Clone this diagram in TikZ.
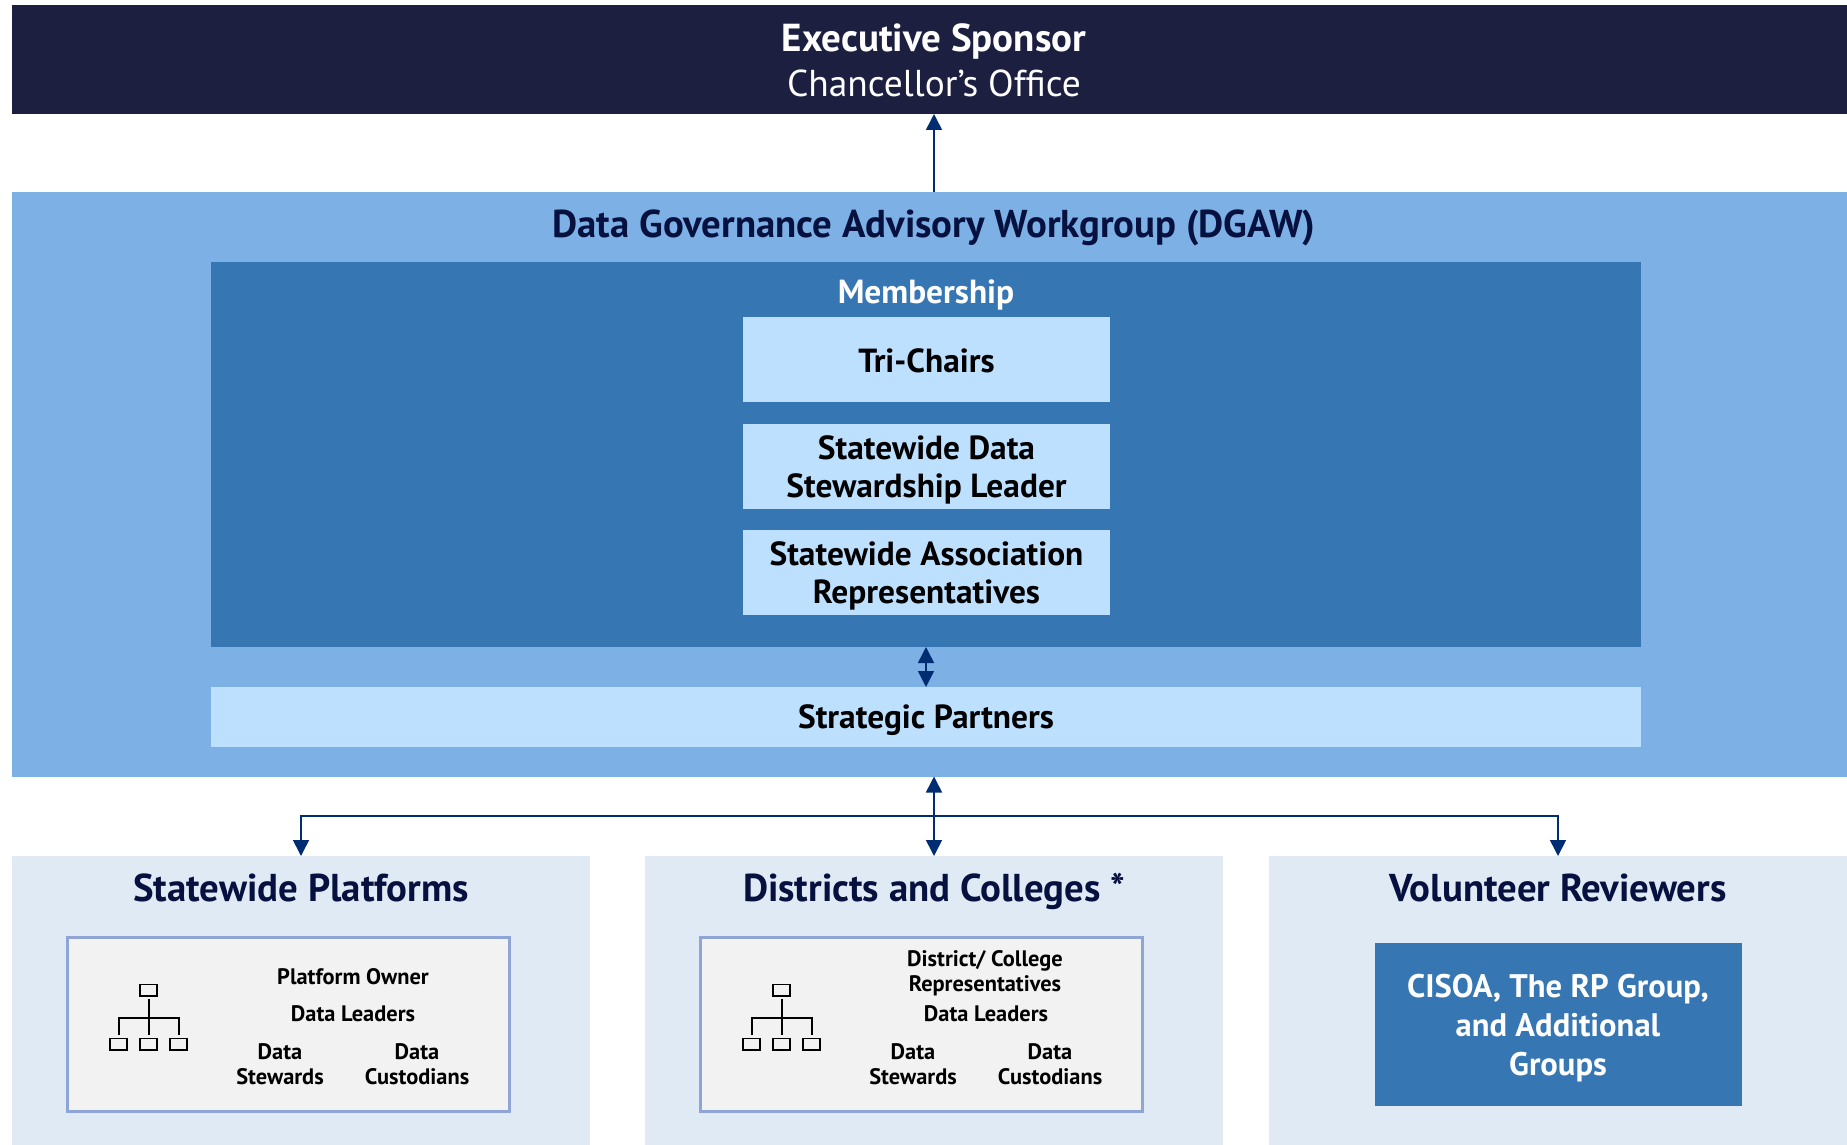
\documentclass[tikz,border=0pt]{standalone}
\usepackage{fontspec}
\setmainfont{PT Sans}
\usetikzlibrary{positioning,arrows.meta}
\definecolor{execblue}{HTML}{1C1F40}
\definecolor{dgawblue}{HTML}{7DB0E5}
\definecolor{memberblue}{HTML}{3676B3}
\definecolor{paleblue}{HTML}{BDE0FF}
\definecolor{groupblue}{HTML}{E0EAF5}
\definecolor{titleblue}{HTML}{07113F}
\definecolor{linkblue}{HTML}{002D72}
\definecolor{cardline}{HTML}{8FA5D6}
\definecolor{cardfill}{HTML}{F2F2F2}
\tikzset{
	panel/.style={anchor=north west,inner sep=0pt,outer sep=0pt},
	rolebox/.style={fill=paleblue,inner sep=0pt,outer sep=0pt,minimum width=183.5pt,minimum height=42.5pt,align=center,font=\fontsize{16.7}{19}\selectfont\bfseries},
	bigtitle/.style={anchor=base,font=\fontsize{19.4}{23}\selectfont\bfseries,text=titleblue},
	midtitle/.style={anchor=base,font=\fontsize{16.7}{19}\selectfont\bfseries},
	smalltext/.style={font=\fontsize{11.2}{12.5}\selectfont\bfseries,align=center,inner sep=0pt},
	link/.style={draw=linkblue,line width=.8pt,-{Triangle[length=8pt,width=8pt]}},
	twolink/.style={draw=linkblue,line width=.8pt,{Triangle[length=8pt,width=8pt]}-{Triangle[length=8pt,width=8pt]}},
	orgbox/.style={draw=black,line width=.9pt,inner sep=0pt,outer sep=1.9pt,minimum width=8.6pt,minimum height=5.6pt}
}
\begin{document}
\begin{tikzpicture}[x=.5pt,y=-.5pt]
	\useasboundingbox (0,0) rectangle (1847,1145);
	% top bar
	\node (exec) [panel,fill=execblue,minimum width=917.5pt,minimum height=54.25pt] at (12,5.5) {};
	\node (execname) at (934,52) [anchor=base,font=\fontsize{19.5}{23}\selectfont\bfseries,text=white] {Executive Sponsor};
	\node (execoffice) at (934,96.7) [anchor=base,font=\fontsize{18.7}{23}\selectfont,text=white] {Chancellor’s Office};
	% workgroup
	\node (dgaw) [panel,fill=dgawblue,minimum width=917.5pt,minimum height=292.25pt] at (12,192) {};
	\node (dgawname) at (934,237.7) [bigtitle] {Data Governance Advisory Workgroup (DGAW)};
	\node (member) [panel,fill=memberblue,minimum width=715pt,minimum height=192.5pt] at (211,262) {};
	\node (membername) at (926,303) [midtitle,text=white] {Membership};
	\node (chairs) [rolebox] at (926.5,359.5) {\rule{0pt}{13.5pt}Tri-Chairs};
	\node (steward) [rolebox,below=11pt of chairs] {\rule{0pt}{15.5pt}Statewide Data\\Stewardship Leader};
	\node (assoc) [rolebox,below=10.5pt of steward] {\rule{0pt}{15.5pt}Statewide Association\\Representatives};
	\node (partners) [panel,fill=paleblue,minimum width=715pt,minimum height=30pt] at (211,687) {};
	\node (partnername) at (926,728.3) [midtitle] {Strategic Partners};
	% bottom groups
	\node (platforms) [panel,fill=groupblue,minimum width=289pt,minimum height=144.5pt] at (12,856) {};
	\node (districts) [panel,fill=groupblue,minimum width=289pt,minimum height=144.5pt] at (645,856) {};
	\node (volunteers) [panel,fill=groupblue,minimum width=289pt,minimum height=144.5pt] at (1269,856) {};
	\node (platformname) at (301,901) [bigtitle] {Statewide Platforms};
	\node (districtname) at (934,901) [bigtitle] {Districts and Colleges *};
	\node (volunteername) at (1558,901) [bigtitle] {Volunteer Reviewers};
	\node (cardp) [panel,draw=cardline,line width=1.5pt,fill=cardfill,minimum width=221pt,minimum height=87pt] at (67.5,937.5) {};
	\node (cardd) [panel,draw=cardline,line width=1.5pt,fill=cardfill,minimum width=221pt,minimum height=87pt] at (700.5,937.5) {};
	\node (groups) [panel,fill=memberblue,minimum width=183.5pt,minimum height=81.5pt] at (1375,943) {};
	\node (groupname) at (1558,1028.5) [font=\fontsize{16.3}{19.5}\selectfont\bfseries,text=white,align=center] {CISOA, The RP Group,\\and Additional\\Groups};
	% small texts
	\node (ownerp) [smalltext] at (353,977) {Platform Owner};
	\node (ownerd) [smalltext] at (985,973) {District/ College\\Representatives};
	\foreach \ix/\cx in {p/0,d/633}{
		\node (leaders\ix) [smalltext] at (353+\cx,1014) {Data Leaders};
		\node (stewards\ix) [smalltext] at (280+\cx,1064.5) {Data\\Stewards};
		\node (custodians\ix) [smalltext] at (417+\cx,1064.5) {Data\\Custodians};
		% hierarchy icon
		\node (orgtop\ix) [orgbox] at (148.7+\cx,990) {};
		\node (orgl\ix) [orgbox] at (118.6+\cx,1044) {};
		\node (orgm\ix) [orgbox] at (148.7+\cx,1044) {};
		\node (orgr\ix) [orgbox] at (178.7+\cx,1044) {};
		\draw[line width=.9pt] (orgtop\ix) -- (orgm\ix);
		\draw[line width=.9pt] (orgl\ix.north) -- ++(0,-17) -| (orgr\ix.north);
	}
	% connectors
	\coordinate (bus) at (districts.north |- 0,816);
	\draw[link] (dgaw.north -| districts.north) -- (exec.south -| districts.north);
	\draw[twolink] (member.south) -- (partners.north);
	\draw[twolink] (dgaw.south -| districts.north) -- (districts.north);
	\draw[link] (bus) -| (platforms.north);
	\draw[link] (bus) -| (volunteers.north);
\end{tikzpicture}
\end{document}
